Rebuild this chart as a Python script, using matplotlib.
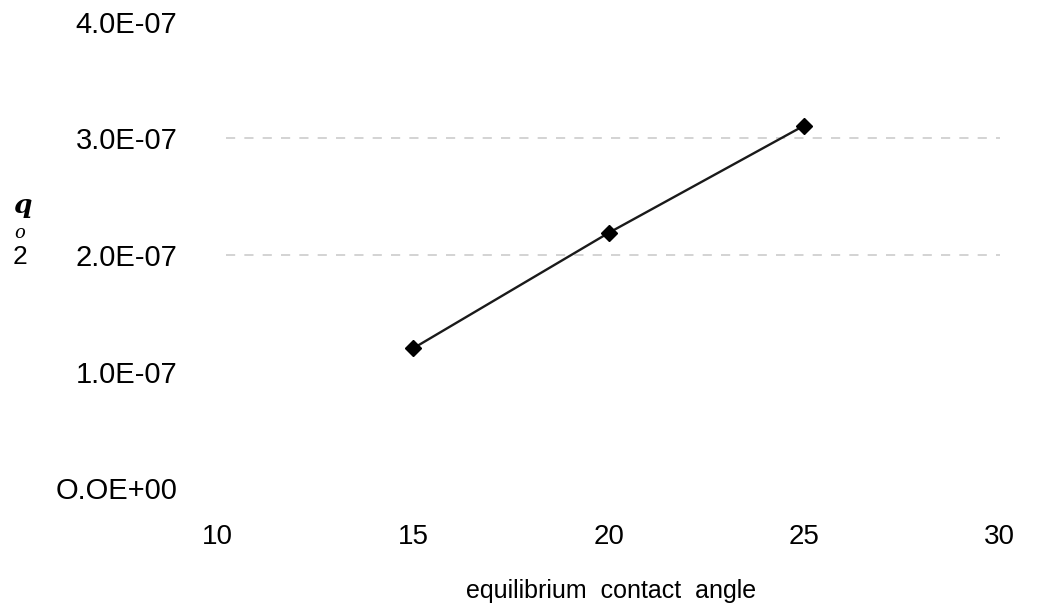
import numpy as np
import matplotlib
matplotlib.use('Agg')
import matplotlib.pyplot as plt

plt.rcParams['font.family'] = ['Liberation Sans', 'DejaVu Sans']

# dati
angle = [15, 20, 25]
q_o2 = [1.20e-7, 2.19e-7, 3.11e-7]
xticks = [10, 15, 20, 25, 30]
yticks = [0, 1e-7, 2e-7, 3e-7, 4e-7]
ylabels = ['O.OE+00', '1.0E-07', '2.0E-07', '3.0E-07', '4.0E-07']
gridvals = [2e-7, 3e-7]

fig = plt.figure(figsize=(10.37, 6.05), dpi=100)
ax = fig.add_axes([0.210, 0.193, 0.754, 0.771])

# griglia tratteggiata solo a 2E-07 e 3E-07
for g in gridvals:
    ax.axhline(g, xmin=0.01, xmax=1.0, color='#c8c8c8', lw=1.1, ls=(0, (6, 6)), zorder=1)

ax.plot(angle, q_o2, color='#1a1a1a', lw=1.7, marker='D', ms=8.5, mfc='black', mec='black', zorder=3)

ax.set_xlim(10, 30)
ax.set_ylim(0, 4e-7)
ax.set_xticks(xticks)
ax.set_xticklabels([str(t) for t in xticks])
ax.set_yticks(yticks)
ax.set_yticklabels(ylabels)
ax.tick_params(axis='both', length=0)
ax.tick_params(axis='x', pad=26, labelsize=20)
ax.tick_params(axis='y', pad=29, labelsize=21)
for s in ax.spines.values():
    s.set_visible(False)

fig.text(611 / 1037, 1 - 591 / 605, 'equilibrium  contact  angle', fontsize=18, ha='center', va='center')

# etichetta asse y spezzata su tre righe
fig.text(0.013, 1 - 205 / 605, 'q', fontsize=19, family='DejaVu Serif', style='italic', weight='bold', va='center')
fig.text(0.014, 1 - 233 / 605, 'o', fontsize=13, family='DejaVu Serif', style='italic', va='center')
fig.text(0.012, 1 - 257 / 605, '2', fontsize=19, va='center')

fig.savefig('out.png', dpi=100)
